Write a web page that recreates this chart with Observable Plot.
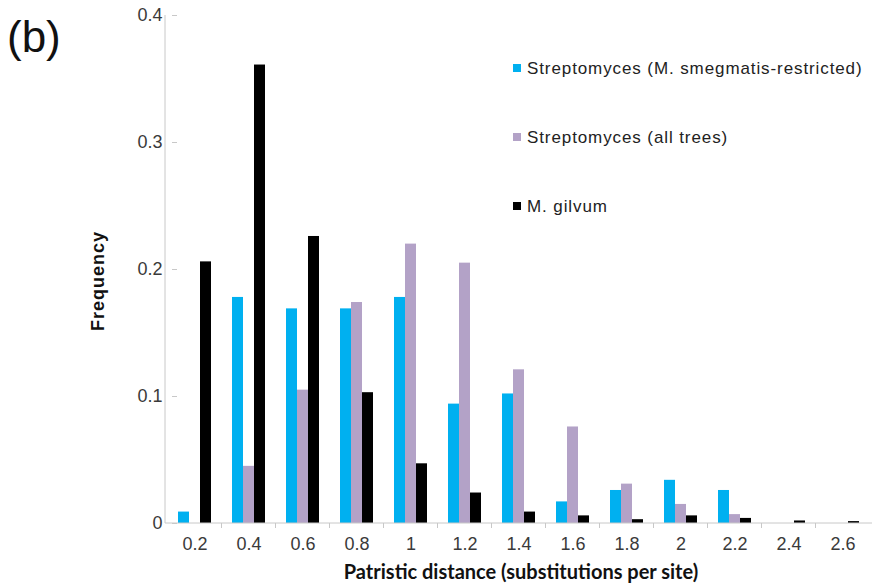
<!DOCTYPE html>
<html>
<head>
<meta charset="utf-8">
<script src="https://cdn.jsdelivr.net/npm/d3@7"></script>
<script src="https://cdn.jsdelivr.net/npm/@observablehq/plot@0.6"></script>
<style>
  html, body { margin: 0; padding: 0; background: #fff; }
  #chart { position: relative; width: 872px; height: 586px; }
</style>
</head>
<body>
<div id="chart"></div>
<script>
// ---- data ----
const distances = ["0.2","0.4","0.6","0.8","1","1.2","1.4","1.6","1.8","2","2.2","2.4","2.6"];
const smegRestricted = [0.009, 0.178, 0.169, 0.169, 0.178, 0.094, 0.102, 0.017, 0.026, 0.034, 0.026, 0, 0];
const allTrees       = [0,     0.045, 0.105, 0.174, 0.220, 0.205, 0.121, 0.076, 0.031, 0.015, 0.007, 0, 0];
const gilvum         = [0.206, 0.361, 0.226, 0.103, 0.047, 0.024, 0.009, 0.006, 0.003, 0.006, 0.004, 0.002, 0.0015];
const seriesNames = ["Streptomyces (M. smegmatis-restricted)", "Streptomyces (all trees)", "M. gilvum"];
const seriesColors = ["#00b0f0", "#b3a2c7", "#000000"];
const yTicks = [0, 0.1, 0.2, 0.3, 0.4];

const seriesValues = [smegRestricted, allTrees, gilvum];
const data = [];
distances.forEach((d, i) => {
  seriesNames.forEach((s, j) => data.push({distance: d, series: s, value: seriesValues[j][i]}));
});

const W = 872, H = 586;
const FONT = "'Liberation Sans', Arial, sans-serif";
const plot = Plot.plot({
  width: W, height: H,
  marginLeft: 165, marginRight: 0, marginTop: 15, marginBottom: 63,
  style: {fontFamily: FONT, fontSize: "18px", color: "#3a3a3a", background: "#fff"},
  fx: {domain: distances, paddingInner: 0.35, paddingOuter: 0.175, label: null},
  x: {domain: seriesNames, padding: 0, axis: null},
  y: {domain: [0, 0.4], label: null},
  color: {domain: seriesNames, range: seriesColors},
  marks: [
    Plot.barY(data, {fx: "distance", x: "series", y: "value", fill: "series"}),
    Plot.axisY({ticks: yTicks, tickSize: 5, tickPadding: 10, stroke: "#c8c8c8", fill: "#3a3a3a", fontSize: 18, label: null, tickFormat: d => String(d)}),
    Plot.axisFx({anchor: "bottom", tickSize: 0, tickPadding: 14, label: null, fill: "#3a3a3a", fontSize: 18})
  ]
});
document.getElementById("chart").appendChild(plot);

// ---- axis lines, boundary ticks, labels, legend ----
const svg = d3.select(plot);
svg.selectAll('g[aria-label$="tick label"]').style("font-size", "18px")
  .selectAll("text").style("font-size", "18px");
const fx = plot.scale("fx");
const y = plot.scale("y");
const gray = "#c8c8c8";
const y0 = y.apply(0), yTop = y.apply(0.4);
const left = fx.range[0], right = fx.range[1];
const g = svg.append("g");
g.append("line").attr("x1", left).attr("x2", left).attr("y1", yTop).attr("y2", y0).attr("stroke", gray);
g.append("line").attr("x1", left).attr("x2", right).attr("y1", y0).attr("y2", y0).attr("stroke", gray);
const gap = (fx.step - fx.bandwidth) / 2;
distances.forEach((d, i) => {
  const xb = fx.apply(d) - gap;
  if (i > 0) g.append("line").attr("x1", xb).attr("x2", xb).attr("y1", y0).attr("y2", y0 + 5).attr("stroke", gray);
});

function txt(sel, size, weight, family, anchor, spacing) {
  return sel.style("font-size", size + "px").style("font-weight", weight)
    .style("font-family", family).style("text-anchor", anchor)
    .style("letter-spacing", (spacing || 0) + "px");
}

txt(svg.append("text").attr("x", 7).attr("y", 52), 44, "normal", FONT, "start")
  .attr("fill", "#111").text("(b)");

txt(svg.append("text").attr("transform", `translate(104,${(yTop + y0) / 2 + 12}) rotate(-90)`), 18, "bold", FONT, "middle", 1)
  .attr("fill", "#111").text("Frequency");

txt(svg.append("text").attr("x", 521).attr("y", 579), 20, "bold", "Lato, 'Open Sans', sans-serif", "middle")
  .attr("fill", "#111").text("Patristic distance (substitutions per site)");

const legendY = [68, 137, 206];
seriesNames.forEach((s, i) => {
  const lg = svg.append("g");
  lg.append("rect").attr("x", 513).attr("y", legendY[i] - 4).attr("width", 8).attr("height", 8).attr("fill", seriesColors[i]);
  txt(lg.append("text").attr("x", 527).attr("y", legendY[i]).attr("dy", "0.35em"), 17, "normal", FONT, "start", 0.9)
    .attr("fill", "#222").text(s);
});
</script>
</body>
</html>
